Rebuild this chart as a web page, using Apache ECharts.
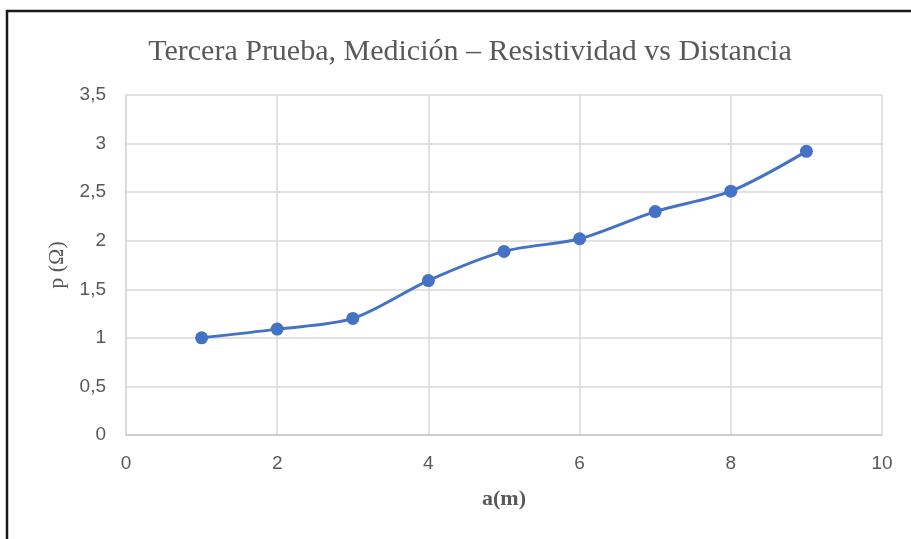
<!DOCTYPE html>
<html>
<head>
<meta charset="utf-8">
<script src="https://cdn.jsdelivr.net/npm/echarts@6/dist/echarts.min.js"></script>
<style>
html,body{margin:0;padding:0;background:#fff;}
#chart{width:911px;height:539px;}
</style>
</head>
<body>
<div id="chart"></div>
<script>
const distances = [1, 2, 3, 4, 5, 6, 7, 8, 9];
const resistivity = [1.0, 1.09, 1.2, 1.59, 1.89, 2.02, 2.3, 2.51, 2.92];
const titleText = 'Tercera Prueba, Medición – Resistividad vs Distancia';
const xName = 'a(m)';
const yName = 'p (Ω)';

const chart = echarts.init(document.getElementById('chart'), null, {renderer: 'canvas'});
const fmt = v => String(v).replace('.', ',');
chart.setOption({
  animation: false,
  backgroundColor: '#fff',
  title: {
    text: titleText,
    left: 465,
    textAlign: 'center',
    top: 32,
    textStyle: {fontFamily: 'Liberation Serif', fontSize: 30, fontWeight: 'normal', color: '#595959'}
  },
  graphic: [{
    type: 'polyline',
    shape: {points: [[7, 539], [7, 11], [911, 11]]},
    style: {stroke: '#1a1a1a', lineWidth: 2.5, fill: null},
    silent: true
  }],
  grid: {left: 126, right: 29, top: 95, bottom: 104, containLabel: false},
  xAxis: {
    type: 'value', min: 0, max: 10, interval: 2,
    name: xName, nameLocation: 'middle', nameGap: 53,
    nameTextStyle: {fontFamily: 'Liberation Serif', fontSize: 22, fontWeight: 'bold', color: '#595959'},
    axisLine: {show: true, lineStyle: {color: '#c8c8c8', width: 1.5}},
    axisTick: {show: false},
    axisLabel: {margin: 19, fontFamily: 'Liberation Sans', fontSize: 19, color: '#595959', formatter: fmt},
    splitLine: {show: true, lineStyle: {color: '#d9d9d9', width: 1.5}}
  },
  yAxis: {
    type: 'value', min: 0, max: 3.5, interval: 0.5,
    name: yName, nameLocation: 'middle', nameGap: 58, nameRotate: 90,
    nameTextStyle: {fontFamily: 'Liberation Serif', fontSize: 22, color: '#595959'},
    axisLine: {show: true, lineStyle: {color: '#d9d9d9', width: 1.5}},
    axisTick: {show: false},
    axisLabel: {margin: 20, fontFamily: 'Liberation Sans', fontSize: 19, color: '#595959', formatter: fmt},
    splitLine: {show: true, lineStyle: {color: '#d9d9d9', width: 1.5}}
  },
  series: [{
    type: 'line',
    data: distances.map((d, i) => [d, resistivity[i]]),
    smooth: 0.3,
    symbol: 'circle',
    symbolSize: 13,
    lineStyle: {color: '#4472C4', width: 3},
    itemStyle: {color: '#4472C4'}
  }]
});
</script>
</body>
</html>
